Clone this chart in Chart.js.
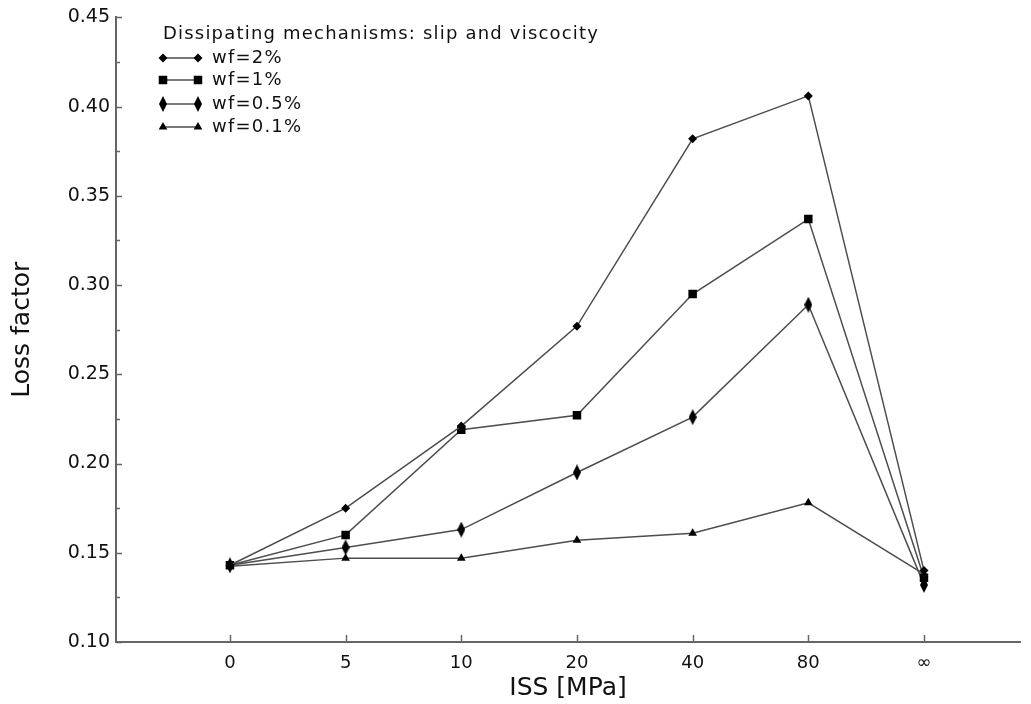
<!DOCTYPE html>
<html lang="en">
<head>
    <meta charset="UTF-8">
    <title>Loss factor vs ISS</title>
    <script src="https://cdn.jsdelivr.net/npm/chart.js"></script>
    <style>
        html, body { margin: 0; padding: 0; background: #fff; }
        #wrap { width: 1031px; height: 704px; position: relative; }
    </style>
</head>
<body>
    <div id="wrap"><canvas id="grafico"></canvas></div>

    <script>
        // ISS categories (x axis)
        const issLabels = ['0', '5', '10', '20', '40', '80', '\u221E'];

        // Loss factor, one array per fibre weight fraction
        const wf2  = [0.143, 0.175, 0.221, 0.277, 0.382, 0.406, 0.140];
        const wf1  = [0.143, 0.160, 0.219, 0.227, 0.295, 0.337, 0.136];
        const wf05 = [0.143, 0.153, 0.163, 0.195, 0.226, 0.289, 0.132];
        const wf01 = [0.1425, 0.147, 0.147, 0.157, 0.161, 0.178, 0.138];

        const seriesNames = ['wf=2%', 'wf=1%', 'wf=0.5%', 'wf=0.1%'];
        const yTicks = [0.10, 0.15, 0.20, 0.25, 0.30, 0.35, 0.40, 0.45];
        const legendTitle = 'Dissipating mechanisms: slip and viscocity';

        Chart.defaults.font.family = '"DejaVu Sans", Verdana, sans-serif';
        Chart.defaults.color = '#111';

        // tall diamond marker used for wf=0.5%
        function tallDiamond(w, h) {
            const c = document.createElement('canvas');
            c.width = w; c.height = h;
            const g = c.getContext('2d');
            g.fillStyle = '#000';
            g.beginPath();
            g.moveTo(w / 2, 0);
            g.lineTo(w, h / 2);
            g.lineTo(w / 2, h);
            g.lineTo(0, h / 2);
            g.closePath();
            g.fill();
            return c;
        }
        const diamondAlto = tallDiamond(8, 16);

        const marcadores = [
            { style: 'rectRot', radius: 4.5 },
            { style: 'rect', radius: 6 },
            { style: diamondAlto, radius: 6 },
            { style: 'triangle', radius: 5 }
        ];

        const valores = [wf2, wf1, wf05, wf01];
        const lineColor = '#4d4d4d';

        const datasets = valores.map((vals, i) => ({
            label: seriesNames[i],
            data: vals.map((v, k) => ({ x: k, y: v })),
            borderColor: lineColor,
            borderWidth: 1.5,
            backgroundColor: '#000',
            pointBackgroundColor: '#000',
            pointBorderColor: '#000',
            pointBorderWidth: 0,
            pointStyle: marcadores[i].style,
            pointRadius: marcadores[i].radius,
            tension: 0,
            fill: false
        }));

        // desenha um marcador na legenda
        function desenharMarcador(ctx, m, x, y) {
            ctx.save();
            ctx.fillStyle = '#000';
            if (typeof m.style !== 'string') {
                ctx.drawImage(m.style, x - m.style.width / 2, y - m.style.height / 2);
            } else {
                ctx.beginPath();
                const r = m.radius;
                if (m.style === 'rectRot') {
                    ctx.moveTo(x - r, y); ctx.lineTo(x, y - r); ctx.lineTo(x + r, y); ctx.lineTo(x, y + r);
                } else if (m.style === 'rect') {
                    const s = r * Math.SQRT1_2;
                    ctx.rect(x - s, y - s, 2 * s, 2 * s);
                } else if (m.style === 'triangle') {
                    ctx.moveTo(x, y - r);
                    ctx.lineTo(x + r * 0.866, y + r * 0.5);
                    ctx.lineTo(x - r * 0.866, y + r * 0.5);
                }
                ctx.closePath();
                ctx.fill();
            }
            ctx.restore();
        }

        // legenda com linha e marcadores nas duas pontas
        const legendaPlugin = {
            id: 'legendaPlugin',
            afterDraw(chart) {
                const ctx = chart.ctx;
                ctx.save();
                ctx.font = '18px "DejaVu Sans", Verdana, sans-serif';
                ctx.letterSpacing = '1.2px';
                ctx.fillStyle = '#111';
                ctx.textBaseline = 'middle';
                ctx.textAlign = 'left';
                ctx.fillText(legendTitle, 163, 34);
                const rows = [58, 80, 104, 127];
                seriesNames.forEach((name, i) => {
                    const y = rows[i];
                    ctx.strokeStyle = lineColor;
                    ctx.lineWidth = 1.5;
                    ctx.beginPath();
                    ctx.moveTo(163, y);
                    ctx.lineTo(198, y);
                    ctx.stroke();
                    desenharMarcador(ctx, marcadores[i], 163, y);
                    desenharMarcador(ctx, marcadores[i], 198, y);
                    ctx.fillStyle = '#111';
                    ctx.fillText(name, 212, y);
                });
                ctx.restore();
            }
        };

        // marcas de escala voltadas para dentro
        const marcasPlugin = {
            id: 'marcasPlugin',
            afterDraw(chart) {
                const { ctx, chartArea, scales } = chart;
                ctx.save();
                ctx.strokeStyle = '#666';
                ctx.lineWidth = 1.5;
                ctx.beginPath();
                for (let k = 0; k <= 14; k++) {
                    const v = 0.10 + k * 0.025;
                    const y = Math.round(scales.y.getPixelForValue(v)) + 0.5;
                    const len = k % 2 === 0 ? 6 : 4;
                    ctx.moveTo(chartArea.left, y);
                    ctx.lineTo(chartArea.left + len, y);
                }
                issLabels.forEach((_, k) => {
                    const x = Math.round(scales.x.getPixelForValue(k)) + 0.5;
                    ctx.moveTo(x, chartArea.bottom);
                    ctx.lineTo(x, chartArea.bottom - 7);
                });
                ctx.stroke();
                ctx.restore();
            }
        };

        const ctx = document.getElementById('grafico').getContext('2d');
        new Chart(ctx, {
            type: 'line',
            data: { datasets: datasets },
            options: {
                responsive: true,
                maintainAspectRatio: false,
                animation: false,
                layout: { padding: { top: 16, right: 11, bottom: 0, left: 0 } },
                plugins: {
                    legend: { display: false },
                    tooltip: { enabled: false }
                },
                scales: {
                    x: {
                        type: 'linear',
                        min: -0.985,
                        max: 6.83,
                        afterBuildTicks: (scale) => {
                            scale.ticks = issLabels.map((_, k) => ({ value: k }));
                        },
                        afterFit: (scale) => { scale.height = 62; },
                        grid: { display: false, drawTicks: false },
                        border: { display: true, color: '#666', width: 2 },
                        ticks: {
                            padding: 11,
                            autoSkip: false,
                            maxRotation: 0,
                            font: { size: 18 },
                            color: '#111',
                            callback: (v) => issLabels[v] !== undefined ? issLabels[v] : ''
                        },
                        title: {
                            display: true,
                            text: 'ISS [MPa]',
                            font: { size: 25 },
                            color: '#111',
                            padding: { top: 0, bottom: 1 }
                        }
                    },
                    y: {
                        min: 0.10,
                        max: 0.45,
                        afterBuildTicks: (scale) => {
                            scale.ticks = yTicks.map(v => ({ value: v }));
                        },
                        afterFit: (scale) => { scale.width = 116; },
                        grid: { display: false, drawTicks: false },
                        border: { display: true, color: '#666', width: 2 },
                        ticks: {
                            padding: 6,
                            font: { size: 19 },
                            color: '#111',
                            callback: (v) => Number(v).toFixed(2)
                        },
                        title: {
                            display: true,
                            text: 'Loss factor',
                            font: { size: 25 },
                            color: '#111',
                            padding: { top: 7, bottom: 0 }
                        }
                    }
                }
            },
            plugins: [marcasPlugin, legendaPlugin]
        });
    </script>
</body>
</html>
